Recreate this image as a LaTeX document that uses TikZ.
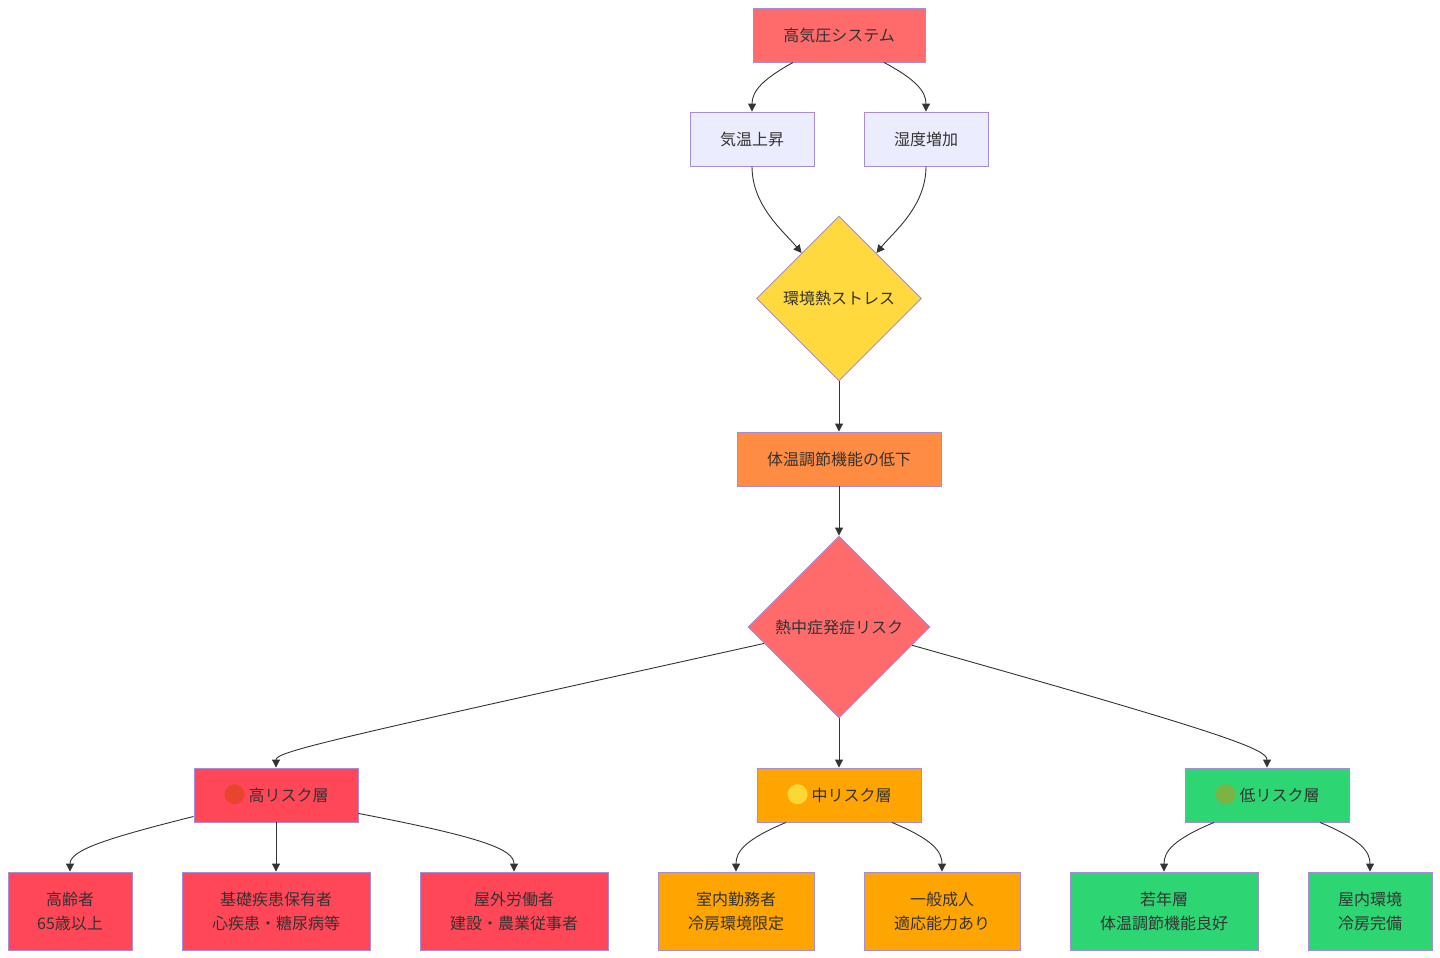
\documentclass[tikz,border=0pt]{standalone}
\usepackage{fontspec}
\setmainfont{Noto Sans CJK JP}
\newfontfamily\dotfont{DejaVu Sans}
\usetikzlibrary{arrows.meta,calc,shapes.geometric}
\definecolor{mpurple}{HTML}{A68CDB}
\definecolor{txt}{HTML}{333333}
\definecolor{ecol}{HTML}{333333}
\definecolor{cHP}{HTML}{FF6B6B}
\definecolor{cLight}{HTML}{ECECFF}
\definecolor{cES}{HTML}{FFD93D}
\definecolor{cBT}{HTML}{FF8C42}
\definecolor{cHI}{HTML}{FF4757}
\definecolor{cMID}{HTML}{FFA502}
\definecolor{cLO}{HTML}{2ED573}
\definecolor{emred}{HTML}{E8452C}
\definecolor{emyel}{HTML}{FDD835}
\definecolor{emgrn}{HTML}{7CB342}
\newcommand{\riskdot}[1]{\smash{\raisebox{-0.8pt}{\dotfont\fontsize{26}{24}\selectfont\textcolor{#1}{●}}}}
\begin{document}
\begin{tikzpicture}[x=1pt,y=-1pt,
  box/.style={draw=mpurple, line width=0.9pt, minimum height=54pt, text=txt,
    inner sep=0pt, font=\fontsize{16}{24}\selectfont, align=center},
  tallbox/.style={box, minimum height=78pt},
  dia/.style={diamond, aspect=1, draw=mpurple, line width=0.9pt, text=txt,
    inner sep=0pt, font=\fontsize{16}{24}\selectfont},
  arr/.style={draw=ecol, line width=0.9pt, -{Triangle[length=8pt,width=8pt]}}
]
\useasboundingbox (0,0) rectangle (1440,958);
\fill[white] (0,0) rectangle (1440,958);

\node[box, fill=cHP, minimum width=172pt] (hp) at (839,35) {高気圧システム};
\node[box, fill=cLight, minimum width=124pt] (ta) at (752,139) {気温上昇};
\node[box, fill=cLight, minimum width=124pt] (hu) at (926,139) {湿度増加};
\node[dia, fill=cES, minimum width=165pt, minimum height=165pt] (es) at (839,298.5) {環境熱ストレス};
\node[box, fill=cBT, minimum width=204pt] (bt) at (839,459) {体温調節機能の低下};
\node[dia, fill=cHP, minimum width=182pt, minimum height=182pt] (hr) at (839,627) {熱中症発症リスク};

\node[box, fill=cHI, minimum width=164pt] (hi) at (276,795) {\riskdot{emred}\,高リスク層};
\node[box, fill=cMID, minimum width=164pt] (mid) at (839,795) {\riskdot{emyel}\,中リスク層};
\node[box, fill=cLO, minimum width=164pt] (lo) at (1267,795) {\riskdot{emgrn}\,低リスク層};

\node[tallbox, fill=cHI, minimum width=124pt] (old) at (70,911) {高齢者\\65歳以上};
\node[tallbox, fill=cHI, minimum width=188pt] (dis) at (276,911) {基礎疾患保有者\\心疾患・糖尿病等};
\node[tallbox, fill=cHI, minimum width=188pt] (out) at (514,911) {屋外労働者\\建設・農業従事者};
\node[tallbox, fill=cMID, minimum width=156pt] (ind) at (736,911) {室内勤務者\\冷房環境限定};
\node[tallbox, fill=cMID, minimum width=156pt] (gen) at (942,911) {一般成人\\適応能力あり};
\node[tallbox, fill=cLO, minimum width=188pt] (yng) at (1164,911) {若年層\\体温調節機能良好};
\node[tallbox, fill=cLO, minimum width=124pt] (inh) at (1370,911) {屋内環境\\冷房完備};

% edges
\draw[arr] ($(hp.south)+(-46,0)$) .. controls ($(ta.north)+(10,-32)$) and ($(ta.north)+(0,-20)$) .. (ta.north);
\draw[arr] ($(hp.south)+(45,0)$) .. controls ($(hu.north)+(-10,-32)$) and ($(hu.north)+(0,-20)$) .. (hu.north);
\draw[arr] (ta.south) .. controls ($(ta.south)+(0,40)$) and ($(es.north west)+(-13,-25)$) .. ($(es.north west)+(4,-4)$);
\draw[arr] (hu.south) .. controls ($(hu.south)+(0,40)$) and ($(es.north east)+(13,-25)$) .. ($(es.north east)+(-4,-4)$);
\draw[arr] (es.south) -- (bt.north);
\draw[arr] (bt.south) -- (hr.north);

\draw[arr] ($(hr.west)!0.18!(hr.south)$) .. controls ($(hi.north)+(54,-28)$) and ($(hi.north)+(0,-16)$) .. (hi.north);
\draw[arr] (hr.south) -- (mid.north);
\draw[arr] ($(hr.east)!0.2!(hr.south)$) .. controls ($(lo.north)+(-37,-33)$) and ($(lo.north)+(0,-18)$) .. (lo.north);

\draw[arr] ($(hi.south west)+(0,-6)$) .. controls ($(old.north)+(40,-34)$) and ($(old.north)+(0,-22)$) .. (old.north);
\draw[arr] (hi.south) -- (dis.north);
\draw[arr] ($(hi.south east)+(0,-9)$) .. controls ($(out.north)+(-30,-34)$) and ($(out.north)+(0,-22)$) .. (out.north);

\draw[arr] ($(mid.south)+(-53,0)$) .. controls ($(ind.north)+(9,-32)$) and ($(ind.north)+(0,-20)$) .. (ind.north);
\draw[arr] ($(mid.south)+(53,0)$) .. controls ($(gen.north)+(-9,-32)$) and ($(gen.north)+(0,-20)$) .. (gen.north);
\draw[arr] ($(lo.south)+(-53,0)$) .. controls ($(yng.north)+(9,-32)$) and ($(yng.north)+(0,-20)$) .. (yng.north);
\draw[arr] ($(lo.south)+(53,0)$) .. controls ($(inh.north)+(-9,-32)$) and ($(inh.north)+(0,-20)$) .. (inh.north);
\end{tikzpicture}
\end{document}
